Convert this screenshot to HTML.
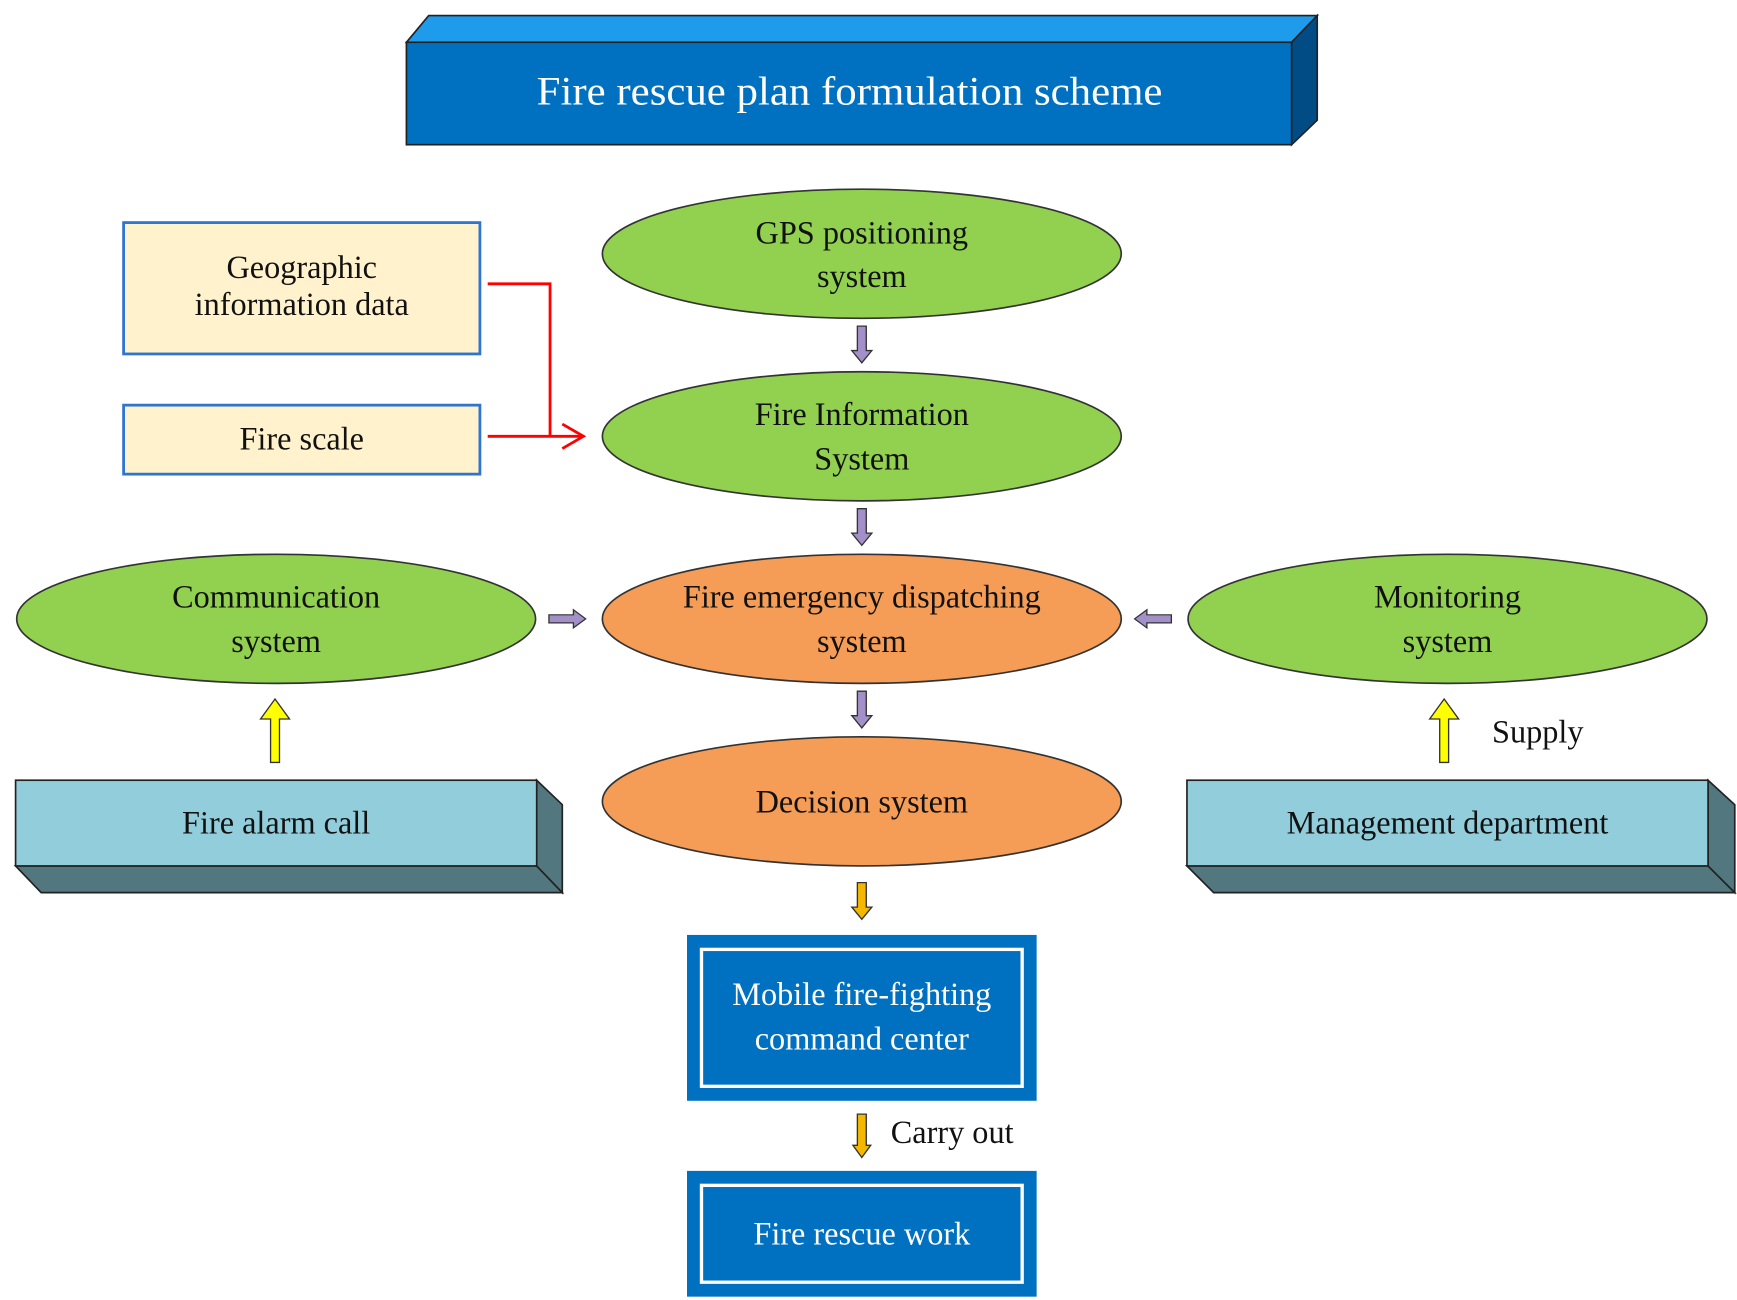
<!DOCTYPE html>
<html><head><meta charset="utf-8"><style>
html,body{margin:0;padding:0;background:#fff;}
svg{display:block;}
text{font-family:"Liberation Serif",serif;fill:#111;}
</style></head><body>
<svg width="1737" height="1300" viewBox="0 0 1560 1168" preserveAspectRatio="none" xmlns="http://www.w3.org/2000/svg">
<defs>
<g id="pdown"><path d="M-4,0 H4 V22 H9 L0,33 L-9,22 H-4 Z" fill="#A390C8" stroke="#333" stroke-width="1.2"/></g>
<g id="odown"><path d="M-4,0 H4 V22 H9 L0,33 L-9,22 H-4 Z" fill="#F5B800" stroke="#333" stroke-width="1.2"/></g>
<g id="yup"><path d="M-4,57 H4 V18 H13 L0,0 L-13,18 H-4 Z" fill="#FFFF00" stroke="#333" stroke-width="1.2"/></g>
</defs>
<polygon points="365,38 385,14 1183,14 1160,38" fill="#1E9BEA" stroke="#222" stroke-width="1.5"/>
<polygon points="1160,38 1183,14 1183,108 1160,130" fill="#024C86" stroke="#222" stroke-width="1.5"/>
<rect x="365" y="38" width="795" height="92" fill="#0070C0" stroke="#222" stroke-width="1.5"/>
<text x="482" y="94" font-size="36" textLength="562" lengthAdjust="spacingAndGlyphs" style="fill:#fff">Fire rescue plan formulation scheme</text>
<rect x="111" y="200" width="320" height="118" fill="#FFF2CC" stroke="#2E75D0" stroke-width="2.5"/>
<text x="271" y="250" font-size="29" text-anchor="middle">Geographic</text>
<text x="271" y="283" font-size="29" text-anchor="middle">information data</text>
<rect x="111" y="364" width="320" height="62" fill="#FFF2CC" stroke="#2E75D0" stroke-width="2.5"/>
<text x="271" y="404" font-size="29" text-anchor="middle">Fire scale</text>
<polyline points="438,255 494,255 494,392" fill="none" stroke="#F00" stroke-width="2.5"/>
<line x1="438" y1="392" x2="524" y2="392" stroke="#F00" stroke-width="2.5"/>
<polyline points="505,381 524,392 505,403" fill="none" stroke="#F00" stroke-width="2.5"/>
<ellipse cx="774" cy="228" rx="233" ry="58" fill="#92D050" stroke="#333" stroke-width="1.5"/>
<text x="774" y="219" font-size="29" text-anchor="middle">GPS positioning</text>
<text x="774" y="258" font-size="29" text-anchor="middle">system</text>
<ellipse cx="774" cy="392" rx="233" ry="58" fill="#92D050" stroke="#333" stroke-width="1.5"/>
<text x="774" y="382" font-size="29" text-anchor="middle">Fire Information</text>
<text x="774" y="422" font-size="29" text-anchor="middle">System</text>
<ellipse cx="774" cy="556" rx="233" ry="58" fill="#F59D56" stroke="#333" stroke-width="1.5"/>
<text x="774" y="546" font-size="29" text-anchor="middle">Fire emergency dispatching</text>
<text x="774" y="586" font-size="29" text-anchor="middle">system</text>
<ellipse cx="774" cy="720" rx="233" ry="58" fill="#F59D56" stroke="#333" stroke-width="1.5"/>
<text x="774" y="730" font-size="29" text-anchor="middle">Decision system</text>
<ellipse cx="248" cy="556" rx="233" ry="58" fill="#92D050" stroke="#333" stroke-width="1.5"/>
<text x="248" y="546" font-size="29" text-anchor="middle">Communication</text>
<text x="248" y="586" font-size="29" text-anchor="middle">system</text>
<ellipse cx="1300" cy="556" rx="233" ry="58" fill="#92D050" stroke="#333" stroke-width="1.5"/>
<text x="1300" y="546" font-size="29" text-anchor="middle">Monitoring</text>
<text x="1300" y="586" font-size="29" text-anchor="middle">system</text>
<use href="#pdown" x="774" y="293"/>
<use href="#pdown" x="774" y="457"/>
<use href="#pdown" x="774" y="621"/>
<path d="M0,-4 V4 H22 V9 L33,0 L22,-9 V-4 Z" transform="translate(493,556) scale(1,0.9)" fill="#A390C8" stroke="#333" stroke-width="1.2"/>
<path d="M0,-4 V4 H-22 V9 L-33,0 L-22,-9 V-4 Z" transform="translate(1052,556) scale(1,0.9)" fill="#A390C8" stroke="#333" stroke-width="1.2"/>
<use href="#yup" x="247" y="628"/>
<use href="#yup" x="1297" y="628"/>
<text x="1340" y="667" font-size="29">Supply</text>
<polygon points="14,778 482,778 505,802 37,802" fill="#52777F" stroke="#222" stroke-width="1.5"/>
<polygon points="482,701 505,723 505,802 482,778" fill="#52777F" stroke="#222" stroke-width="1.5"/>
<rect x="14" y="701" width="468" height="77" fill="#92CDDC" stroke="#222" stroke-width="1.5"/>
<text x="248" y="749" font-size="29" text-anchor="middle">Fire alarm call</text>
<polygon points="1066,778 1534,778 1558,802 1090,802" fill="#52777F" stroke="#222" stroke-width="1.5"/>
<polygon points="1534,701 1558,723 1558,802 1534,778" fill="#52777F" stroke="#222" stroke-width="1.5"/>
<rect x="1066" y="701" width="468" height="77" fill="#92CDDC" stroke="#222" stroke-width="1.5"/>
<text x="1300" y="749" font-size="29" text-anchor="middle">Management department</text>
<use href="#odown" x="774" y="793"/>
<rect x="617" y="840" width="314" height="149" fill="#0070C0"/>
<rect x="630" y="853" width="288" height="123" fill="none" stroke="#fff" stroke-width="3"/>
<text x="774" y="903" font-size="29" text-anchor="middle" style="fill:#fff">Mobile fire-fighting</text>
<text x="774" y="943" font-size="29" text-anchor="middle" style="fill:#fff">command center</text>
<path d="M-4,0 H4 V28 H8 L0,39 L-8,28 H-4 Z" transform="translate(774,1001)" fill="#F5B800" stroke="#333" stroke-width="1.2"/>
<text x="800" y="1027" font-size="29">Carry out</text>
<rect x="617" y="1052" width="314" height="113" fill="#0070C0"/>
<rect x="630" y="1065" width="288" height="87" fill="none" stroke="#fff" stroke-width="3"/>
<text x="774" y="1118" font-size="29" text-anchor="middle" style="fill:#fff">Fire rescue work</text>
</svg>
</body></html>
